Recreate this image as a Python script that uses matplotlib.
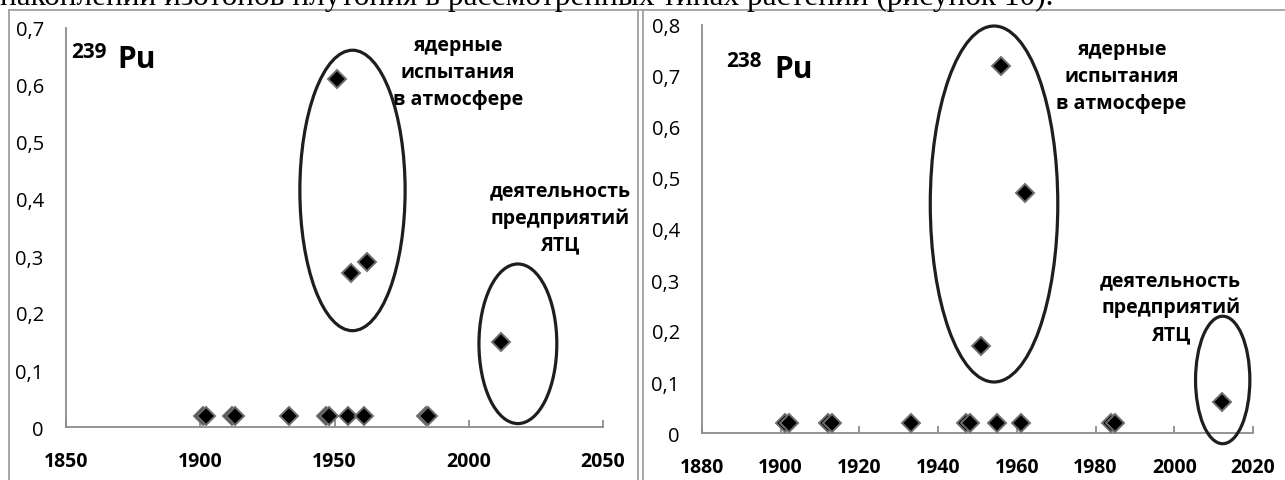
import matplotlib.pyplot as plt
from matplotlib.patches import Ellipse
from matplotlib.ticker import FuncFormatter
from matplotlib.lines import Line2D

# sample years and activities for the two isotopes
years = [1901, 1902, 1912, 1913, 1933, 1947, 1948, 1951, 1955, 1956, 1961, 1962, 1984, 1985, 2012]
pu239 = [0.02, 0.02, 0.02, 0.02, 0.02, 0.02, 0.02, 0.61, 0.02, 0.27, 0.02, 0.29, 0.02, 0.02, 0.15]
pu238 = [0.02, 0.02, 0.02, 0.02, 0.02, 0.02, 0.02, 0.17, 0.02, 0.72, 0.02, 0.47, 0.02, 0.02, 0.06]

left_xticks = [1850, 1900, 1950, 2000, 2050]
right_xticks = [1880, 1900, 1920, 1940, 1960, 1980, 2000, 2020]
left_yticks = [0, 0.1, 0.2, 0.3, 0.4, 0.5, 0.6, 0.7]
right_yticks = [0, 0.1, 0.2, 0.3, 0.4, 0.5, 0.6, 0.7, 0.8]

txt_tests = 'ядерные\nиспытания\nв атмосфере'
txt_plants = 'деятельность\nпредприятий\nЯТЦ'

plt.rcParams['font.family'] = ['Open Sans', 'DejaVu Sans']

fig = plt.figure(figsize=(12.85, 4.81), dpi=100)

# page text line cut by the top edge, and the frame around the panels
fig.text(0.0, 1 - 5 / 481, 'накоплении изотопов плутония в рассмотренных типах растений (рисунок 10).',
         family='Liberation Serif', fontsize=22.5, va='baseline', ha='left')
frame_c = '#a0a0a0'
fig.add_artist(Line2D([9 / 1285, 1], [1 - 11 / 481] * 2, color=frame_c, lw=1.3))
fig.add_artist(Line2D([9 / 1285] * 2, [0, 1 - 11 / 481], color=frame_c, lw=1.3))
fig.add_artist(Line2D([638 / 1285] * 2, [0, 1 - 11 / 481], color=frame_c, lw=1.3))
fig.add_artist(Line2D([643 / 1285] * 2, [0, 1 - 11 / 481], color=frame_c, lw=1.3))


def comma_fmt(v, pos):
    if abs(v) < 1e-9:
        return '0'
    return f'{v:.1f}'.replace('.', ',')


def setup(ax, xlim, ylim, xticks, yticks):
    ax.set_xlim(*xlim)
    ax.set_ylim(*ylim)
    ax.set_xticks(xticks)
    ax.set_yticks(yticks)
    ax.yaxis.set_major_formatter(FuncFormatter(comma_fmt))
    for s in ['top', 'right']:
        ax.spines[s].set_visible(False)
    for s in ['left', 'bottom']:
        ax.spines[s].set_color('#8c8c8c')
        ax.spines[s].set_linewidth(1.3)
    ax.tick_params(axis='x', direction='in', length=5, width=1.3, color='#8c8c8c',
                   pad=17, labelsize=14)
    ax.tick_params(axis='y', length=0, pad=16, labelsize=14.5)
    for lb in ax.get_xticklabels():
        lb.set_fontweight('bold')
    ax.patch.set_alpha(0)


def points(ax, vals):
    ax.plot(years, vals, linestyle='none', marker='D', markersize=9.5,
            markerfacecolor='black', markeredgecolor='#6e6e6e', markeredgewidth=1.4,
            clip_on=False, zorder=3)


def ring(ax, cx, cy, w, h):
    ax.add_patch(Ellipse((cx, cy), w, h, fill=False, edgecolor='#1e1e1e', lw=2.3,
                         clip_on=False, zorder=4))


# left panel: 239 Pu
ax1 = fig.add_axes([66 / 1285, 1 - 428 / 481, 537 / 1285, 399 / 481])
setup(ax1, (1850, 2050), (0, 0.7), left_xticks, left_yticks)
points(ax1, pu239)
ring(ax1, 1956.7, 0.415, 39.2, 0.492)
ring(ax1, 2018.3, 0.146, 29, 0.28)
ax1.text(1852.0, 0.658, '239', fontsize=15, fontweight='bold', va='center', ha='left')
ax1.text(1869.0, 0.645, 'Pu', fontsize=21.5, fontweight='bold', va='center', ha='left')
ax1.text(1996, 0.623, txt_tests, fontsize=14, fontweight='bold', ha='center', va='center',
         multialignment='center', linespacing=1.45)
ax1.text(2034, 0.368, txt_plants, fontsize=14, fontweight='bold', ha='center', va='center',
         multialignment='center', linespacing=1.45)

# right panel: 238 Pu
ax2 = fig.add_axes([702 / 1285, 1 - 434 / 481, 551 / 1285, 408 / 481])
setup(ax2, (1880, 2020), (0, 0.8), right_xticks, right_yticks)
points(ax2, pu238)
ring(ax2, 1954.2, 0.449, 32.4, 0.698)
ring(ax2, 2012.3, 0.104, 13.8, 0.25)
ax2.text(1886.2, 0.731, '238', fontsize=15, fontweight='bold', va='center', ha='left')
ax2.text(1898.3, 0.714, 'Pu', fontsize=21.5, fontweight='bold', va='center', ha='left')
ax2.text(1986.6, 0.70, txt_tests, fontsize=14, fontweight='bold', ha='center', va='center',
         multialignment='center', linespacing=1.45)
ax2.text(1999.1, 0.247, txt_plants, fontsize=14, fontweight='bold', ha='center', va='center',
         multialignment='center', linespacing=1.45)

fig.savefig('out.png', dpi=100)
